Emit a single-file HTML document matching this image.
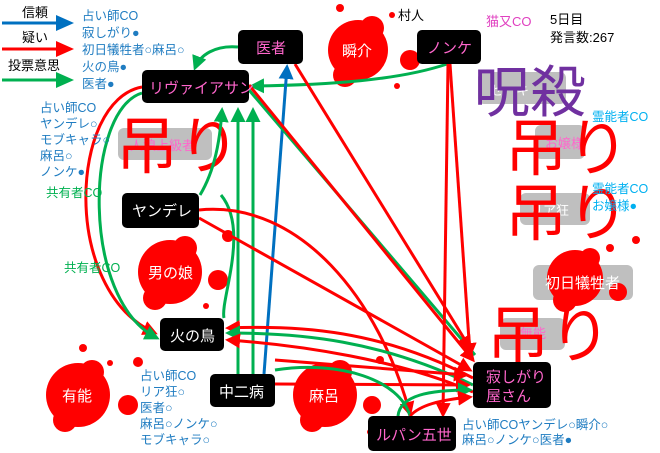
<!DOCTYPE html><html><head><meta charset="utf-8"><style>
body{margin:0;background:#fff;}
svg{display:block;font-family:"Liberation Sans","Noto Sans CJK JP",sans-serif;}
</style></head><body>
<svg width="660" height="453" viewBox="0 0 660 453" xmlns="http://www.w3.org/2000/svg">
<defs>
<marker id="r" markerWidth="5" markerHeight="5" refX="4" refY="2.5" orient="auto" markerUnits="strokeWidth"><path d="M0,0L5,2.5L0,5z" fill="#f00"/></marker>
<marker id="g" markerWidth="5" markerHeight="5" refX="4" refY="2.5" orient="auto" markerUnits="strokeWidth"><path d="M0,0L5,2.5L0,5z" fill="#00b050"/></marker>
<marker id="b" markerWidth="5" markerHeight="5" refX="4" refY="2.5" orient="auto" markerUnits="strokeWidth"><path d="M0,0L5,2.5L0,5z" fill="#0070c0"/></marker>
</defs>
<g fill="#bfbfbf">
<rect x="118" y="128" width="94" height="32" rx="6"/>
<rect x="478" y="72" width="88" height="32" rx="6"/>
<rect x="535" y="125" width="50" height="34" rx="6"/>
<rect x="520" y="193" width="70" height="32" rx="6"/>
<rect x="533" y="265" width="100" height="35" rx="6"/>
<rect x="500" y="318" width="65" height="32" rx="6"/>
</g>
<g font-size="13" fill="#ff66cc"><text x="130" y="150">人狼上級者</text><text x="545" y="148">お嬢様</text><text x="520" y="338">無能</text></g>
<g font-size="13" fill="#fff"><text x="490" y="95">セーキ</text><text x="530" y="215">リア狂</text></g>
<g fill="#f00">
<circle cx="358" cy="50" r="30"/><circle cx="345" cy="75" r="12"/><circle cx="372" cy="28" r="12"/><circle cx="410" cy="60" r="10"/><circle cx="340" cy="8" r="4"/><circle cx="392" cy="15" r="3"/><circle cx="397" cy="86" r="3"/>
<circle cx="170" cy="272" r="32"/><circle cx="155" cy="298" r="12"/><circle cx="185" cy="248" r="12"/><circle cx="218" cy="280" r="10"/><circle cx="228" cy="236" r="6"/><circle cx="206" cy="306" r="3"/>
<circle cx="78" cy="395" r="32"/><circle cx="65" cy="420" r="12"/><circle cx="92" cy="372" r="12"/><circle cx="128" cy="405" r="10"/><circle cx="83" cy="348" r="4"/><circle cx="110" cy="363" r="3"/><circle cx="138" cy="362" r="5"/>
<circle cx="325" cy="395" r="32"/><circle cx="312" cy="420" r="12"/><circle cx="340" cy="372" r="12"/><circle cx="372" cy="405" r="9"/><circle cx="380" cy="360" r="4"/><circle cx="370" cy="432" r="3"/>
<circle cx="575" cy="278" r="28"/><circle cx="565" cy="300" r="12"/><circle cx="590" cy="258" r="10"/><circle cx="618" cy="292" r="9"/><circle cx="610" cy="248" r="4"/><circle cx="636" cy="240" r="4"/>
</g>
<g font-size="15" fill="#fff"><text x="342" y="56">瞬介</text><text x="148" y="278">男の娘</text><text x="62" y="401">有能</text><text x="309" y="401">麻呂</text><text x="545" y="288">初日犠牲者</text></g>
<g font-size="62" fill="#f00"><text x="116" y="168">吊り</text><text x="505" y="170">吊り</text><text x="505" y="235">吊り</text><text x="487" y="357">吊り</text></g>
<text x="474" y="112" font-size="56" fill="#7030a0">呪殺</text>
<g fill="none" stroke-width="3">
<path d="M238,47 C215,45 200,55 195,68" stroke="#00b050" marker-end="url(#g)"/>
<path d="M447,64 C400,80 330,85 252,86" stroke="#00b050" marker-end="url(#g)"/>
<path d="M200,195 C215,170 220,140 222,110" stroke="#00b050" marker-end="url(#g)"/>
<path d="M238,374 L238,110" stroke="#00b050" marker-end="url(#g)"/>
<path d="M253,374 L253,110" stroke="#00b050" marker-end="url(#g)"/>
<path d="M264,374 L287,67" stroke="#0070c0" marker-end="url(#b)"/>
<path d="M142,87 C70,100 60,290 155,333" stroke="#f00" marker-end="url(#r)"/>
<path d="M142,93 C85,110 80,300 157,338" stroke="#00b050" marker-end="url(#g)"/>
<path d="M221,195 C250,230 220,300 224,318" stroke="#00b050"/>
<path d="M249,90 L475,355" stroke="#00b050"/>
<path d="M249,85 L473,360" stroke="#f00" marker-end="url(#r)"/>
<path d="M295,64 L470,348" stroke="#f00" marker-end="url(#r)"/>
<path d="M448,64 L443,415" stroke="#f00" marker-end="url(#r)"/>
<path d="M450,64 L470,355" stroke="#f00" marker-end="url(#r)"/>
<path d="M199,210 C300,200 380,300 410,414" stroke="#f00" marker-end="url(#r)"/>
<path d="M199,218 L470,370" stroke="#f00" marker-end="url(#r)"/>
<path d="M473,378 C380,330 300,325 228,328" stroke="#f00" marker-end="url(#r)"/>
<path d="M473,385 C380,340 300,333 228,333" stroke="#00b050" marker-end="url(#g)"/>
<path d="M473,392 C400,360 300,345 228,340" stroke="#f00" marker-end="url(#r)"/>
<path d="M275,384 L468,385" stroke="#f00" marker-end="url(#r)"/>
<path d="M275,370 C340,360 400,380 410,416" stroke="#00b050"/>
<path d="M398,416 C400,395 430,390 470,390" stroke="#00b050" marker-end="url(#g)"/>
<path d="M410,416 C420,405 440,400 470,397" stroke="#f00" marker-end="url(#r)"/>
<path d="M275,360 L466,375" stroke="#f00" marker-end="url(#r)"/>
</g>
<g fill="#000">
<rect x="238" y="30" width="65" height="34" rx="5"/>
<rect x="142" y="70" width="107" height="33" rx="5"/>
<rect x="417" y="30" width="64" height="34" rx="5"/>
<rect x="122" y="193" width="77" height="35" rx="5"/>
<rect x="160" y="318" width="64" height="33" rx="5"/>
<rect x="210" y="374" width="65" height="33" rx="5"/>
<rect x="473" y="362" width="78" height="46" rx="5"/>
<rect x="368" y="416" width="88" height="35" rx="5"/>
</g>
<g font-size="15" fill="#ff66cc">
<text x="256" y="53">医者</text><text x="149" y="93">リヴァイアサン</text><text x="427" y="53">ノンケ</text>
<text x="486" y="382">寂しがり</text><text x="486" y="401">屋さん</text><text x="376" y="440">ルパン五世</text>
</g>
<g font-size="15" fill="#fff"><text x="132" y="216">ヤンデレ</text><text x="170" y="341">火の鳥</text><text x="219" y="397">中二病</text></g>
<g stroke-width="3"><line x1="2" y1="23" x2="58" y2="23" stroke="#0070c0"/><path d="M56,15L74,23L56,31z" fill="#0070c0"/>
<line x1="2" y1="49" x2="58" y2="49" stroke="#f00"/><path d="M56,41L74,49L56,57z" fill="#f00"/>
<line x1="2" y1="80" x2="58" y2="80" stroke="#00b050"/><path d="M56,72L74,80L56,88z" fill="#00b050"/></g>
<g font-size="13" fill="#000"><text x="22" y="17">信頼</text><text x="22" y="42">疑い</text><text x="8" y="70">投票意思</text>
<text x="398" y="20">村人</text><text x="550" y="24">5日目</text><text x="550" y="42">発言数:267</text></g>
<g font-size="12.5" fill="#1f7cc1">
<text x="82" y="20">占い師CO</text><text x="82" y="37">寂しがり●</text><text x="82" y="54">初日犠牲者○麻呂○</text><text x="82" y="71">火の鳥●</text><text x="82" y="88">医者●</text>
<text x="40" y="112">占い師CO</text><text x="40" y="128">ヤンデレ○</text><text x="40" y="144">モブキャラ○</text><text x="40" y="160">麻呂○</text><text x="40" y="176">ノンケ●</text>
<text x="140" y="380">占い師CO</text><text x="140" y="396">リア狂○</text><text x="140" y="412">医者○</text><text x="140" y="428">麻呂○ノンケ○</text><text x="140" y="444">モブキャラ○</text>
<text x="462" y="429">占い師COヤンデレ○瞬介○</text><text x="462" y="444">麻呂○ノンケ○医者●</text>
</g>
<g font-size="12.5" fill="#00b0f0"><text x="592" y="121">霊能者CO</text><text x="592" y="193">霊能者CO</text><text x="592" y="210">お嬢様●</text></g>
<g font-size="12.5" fill="#00b050"><text x="46" y="197">共有者CO</text><text x="64" y="272">共有者CO</text></g>
<text x="486" y="26" font-size="13" fill="#e040c0">猫又CO</text>
</svg>
</body></html>
